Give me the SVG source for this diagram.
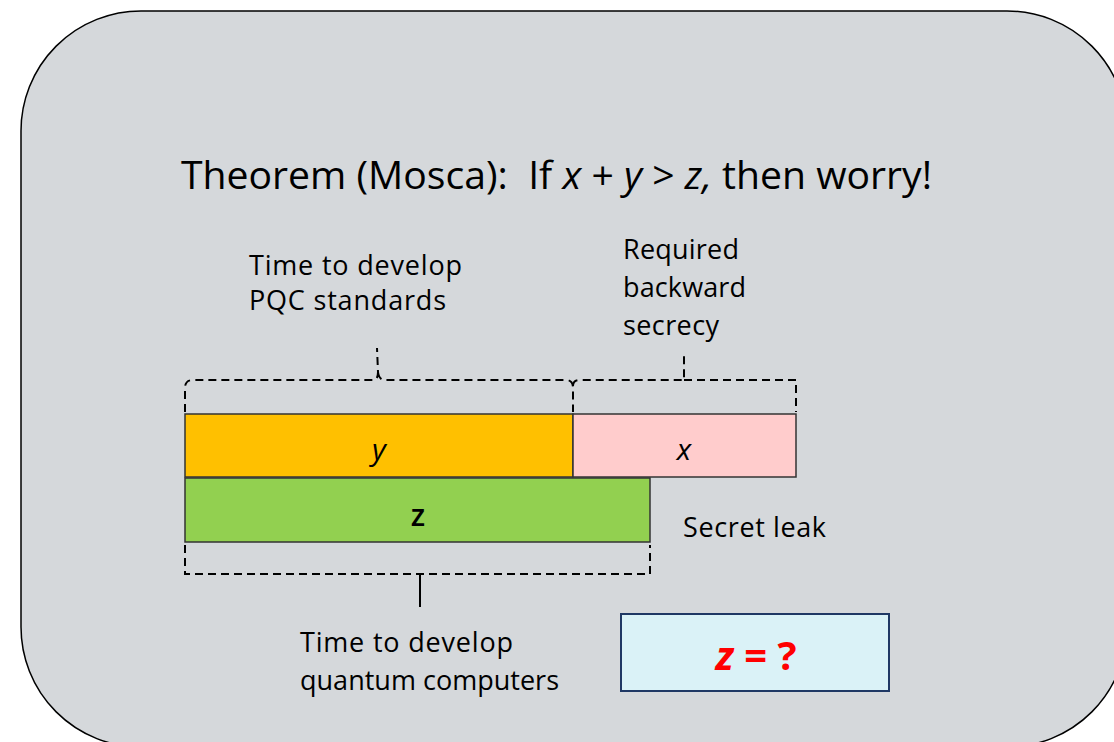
<svg xmlns="http://www.w3.org/2000/svg" width="1114" height="742" viewBox="0 0 1114 742">
<style>
.t{font-family:"Open Sans","Liberation Sans",sans-serif;fill:#000}
.lbl{font-size:27px}
.dash{fill:none;stroke:#000;stroke-width:2;stroke-dasharray:8 5}
.bar{stroke:#333;stroke-width:1.5}
</style>
<rect x="21" y="11" width="1106" height="736" rx="120" ry="120" fill="#D5D8DB" stroke="#000" stroke-width="1.5"/>
<text class="t" x="181" y="189" font-size="38" textLength="751" lengthAdjust="spacingAndGlyphs" xml:space="preserve">Theorem (Mosca):  If <tspan font-style="italic">x</tspan> + <tspan font-style="italic">y</tspan> &gt; <tspan font-style="italic">z,</tspan> then worry!</text>
<g id="bar-y"><rect class="bar" x="185" y="414" width="388" height="63" fill="#FFC000"/><text class="t" x="379" y="460" font-size="30" font-style="italic" text-anchor="middle">y</text></g>
<g id="bar-x"><rect class="bar" x="573" y="414" width="223" height="63" fill="#FFCCCC"/><text class="t" x="684" y="460" font-size="30" font-style="italic" text-anchor="middle">x</text></g>
<g id="bar-z"><rect class="bar" x="185" y="478" width="465" height="64" fill="#92D050"/><text class="t" x="418" y="526" font-size="30" font-weight="600" text-anchor="middle">z</text></g>
<g id="connectors">
<path class="dash" d="M185,412 L185,388 Q185,380 193,380 L373,380 Q378,380 378,372 L377,348 M378,372 Q379,380 385,380 L566,380 Q573,380 573,388 L573,412"/>
<path class="dash" d="M573,386 Q573,380 580,380 L684,380 L684,356 M684,380 L796,380 L796,412"/>
<path class="dash" d="M185,545 L185,574 L650,574 L650,545"/>
<path d="M420,575 L420,607" stroke="#000" stroke-width="2" fill="none"/>
</g>
<g id="label-pqc"><text class="t lbl" x="249" y="275" textLength="213">Time to develop</text><text class="t lbl" x="249" y="310" textLength="197">PQC standards</text></g>
<g id="label-secrecy"><text class="t lbl" x="623" y="259" textLength="116">Required</text><text class="t lbl" x="623" y="297" textLength="123">backward</text><text class="t lbl" x="623" y="335" textLength="96">secrecy</text></g>
<g id="label-leak"><text class="t lbl" x="683" y="537" textLength="143">Secret leak</text></g>
<g id="label-qc"><text class="t lbl" x="300" y="652" textLength="213">Time to develop</text><text class="t lbl" x="300" y="690" textLength="259">quantum computers</text></g>
<g id="box-z"><rect x="621" y="614" width="268" height="77" fill="#DAF2F7" stroke="#1F3864" stroke-width="2"/><text x="756" y="670" font-family="Open Sans,Liberation Sans,sans-serif" font-size="40" font-weight="bold" fill="#FF0000" text-anchor="middle"><tspan font-style="italic">z</tspan> = ?</text></g>
</svg>
